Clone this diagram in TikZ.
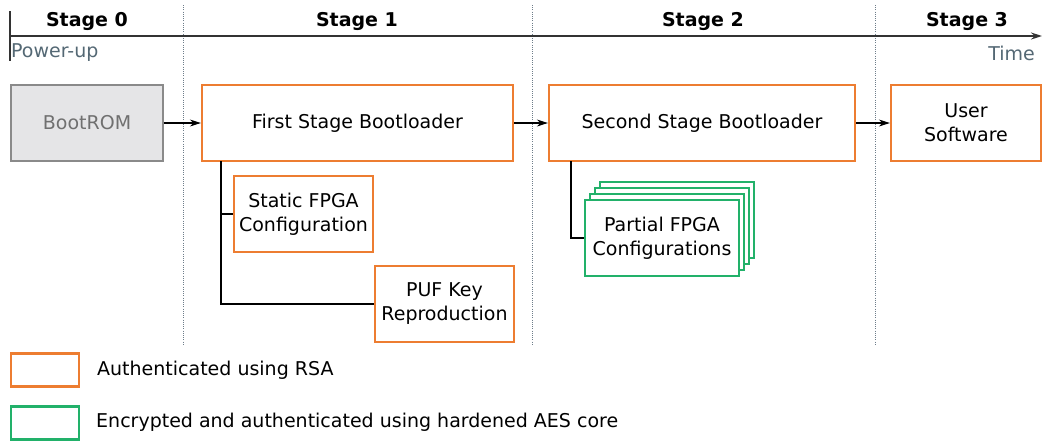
\documentclass[tikz,border=0pt]{standalone}
\usepackage{fontspec}
\setmainfont{DejaVu Sans}
\usetikzlibrary{arrows.meta}
\definecolor{rsaorange}{RGB}{237,125,49}
\definecolor{aesgreen}{RGB}{34,177,106}
\definecolor{romfill}{RGB}{229,229,231}
\definecolor{romedge}{RGB}{138,138,138}
\definecolor{romtext}{RGB}{112,112,112}
\definecolor{slate}{RGB}{84,104,116}
\definecolor{divider}{RGB}{110,125,138}
\tikzset{
  every node/.style={font=\fontsize{19}{24}\selectfont, inner sep=0pt},
  obox/.style={draw=rsaorange, line width=2.3pt, fill=white, minimum height=76, align=center},
  gbox/.style={draw=aesgreen, line width=2.3pt, fill=white, minimum height=76, align=center},
  rombox/.style={draw=romedge, line width=1.4pt, fill=romfill, text=romtext, minimum height=76},
  legbox/.style={line width=2.3pt, fill=white, minimum width=68, minimum height=33},
  stagelabel/.style={font=\fontsize{19}{24}\selectfont\bfseries},
  axisnote/.style={text=slate},
  divline/.style={draw=divider, line width=1pt, dash pattern=on 1pt off 1.2pt},
  timeaxis/.style={draw=black!80, line width=1.7pt},
  flow/.style={draw=black, line width=1.1pt, -{Stealth[length=11pt,width=7pt]}},
  tree/.style={draw=black, line width=1.1pt}
}
\begin{document}
\begin{tikzpicture}[x=1pt, y=-1pt]
\useasboundingbox (0,0) rectangle (1043,440);

% stage dividers
\foreach \dx/\nm in {183/d1, 532/d2, 875/d3}{
  \coordinate (\nm top) at (\dx,5);
  \coordinate (\nm bot) at (\dx,345);
  \draw[divline] (\nm top) -- (\nm bot);
}

% time axis
\coordinate (axstart) at (10,36);
\coordinate (axend) at (1042,36);
\coordinate (ticktop) at (10,11);
\coordinate (tickbot) at (10,61);
\draw[timeaxis, -{Stealth[length=11pt,width=7pt]}] (axstart) -- (axend);
\draw[timeaxis] (ticktop) -- (tickbot);

% stage headings
\node[stagelabel] (s0) at (87,21) {Stage 0};
\node[stagelabel] (s1) at (357,21) {Stage 1};
\node[stagelabel] (s2) at (703,21) {Stage 2};
\node[stagelabel] (s3) at (967,21) {Stage 3};
\node[axisnote, anchor=west] (pwr) at (11,53) {Power-up};
\node[axisnote, anchor=east] (time) at (1035,53) {Time};

% boot chain
\node[rombox, minimum width=152] (rom) at (87,123) {BootROM};
\node[obox, minimum width=311] (fsb) at (357.5,123) {First Stage Bootloader};
\node[obox, minimum width=306] (ssb) at (702,123) {Second Stage Bootloader};
\node[obox, minimum width=150] (usr) at (966,123) {User\\Software};

\draw[flow] (rom) -- (fsb);
\draw[flow] (fsb) -- (ssb);
\draw[flow] (ssb) -- (usr);

% items loaded by the first stage bootloader
\node[obox, minimum width=139] (static) at (303.5,214) {Static FPGA\\Configuration};
\node[obox, minimum width=139] (puf) at (444.5,304) {PUF Key\\Reproduction};
\coordinate (fsbtap) at (221,161);
\draw[tree] (fsbtap) |- (static.west);
\draw[tree] (fsbtap) |- (puf.west);

% partial configurations loaded by the second stage bootloader (stacked)
\foreach \k in {3,2,1}{
  \node[gbox, minimum width=154] (pcfg\k) at (662+5*\k,238-6*\k) {};
}
\node[gbox, minimum width=154] (pcfg) at (662,238) {Partial FPGA\\Configurations};
\coordinate (ssbtap) at (571,161);
\draw[tree] (ssbtap) |- (pcfg.west);

% legend
\node[legbox, draw=rsaorange] (legrsa) at (45,370) {};
\node[anchor=west] (legrsatext) at (97,370) {Authenticated using RSA};
\node[legbox, draw=aesgreen] (legaes) at (45,423) {};
\node[anchor=west] (legaestext) at (96,422) {Encrypted and authenticated using hardened AES core};
\end{tikzpicture}
\end{document}
